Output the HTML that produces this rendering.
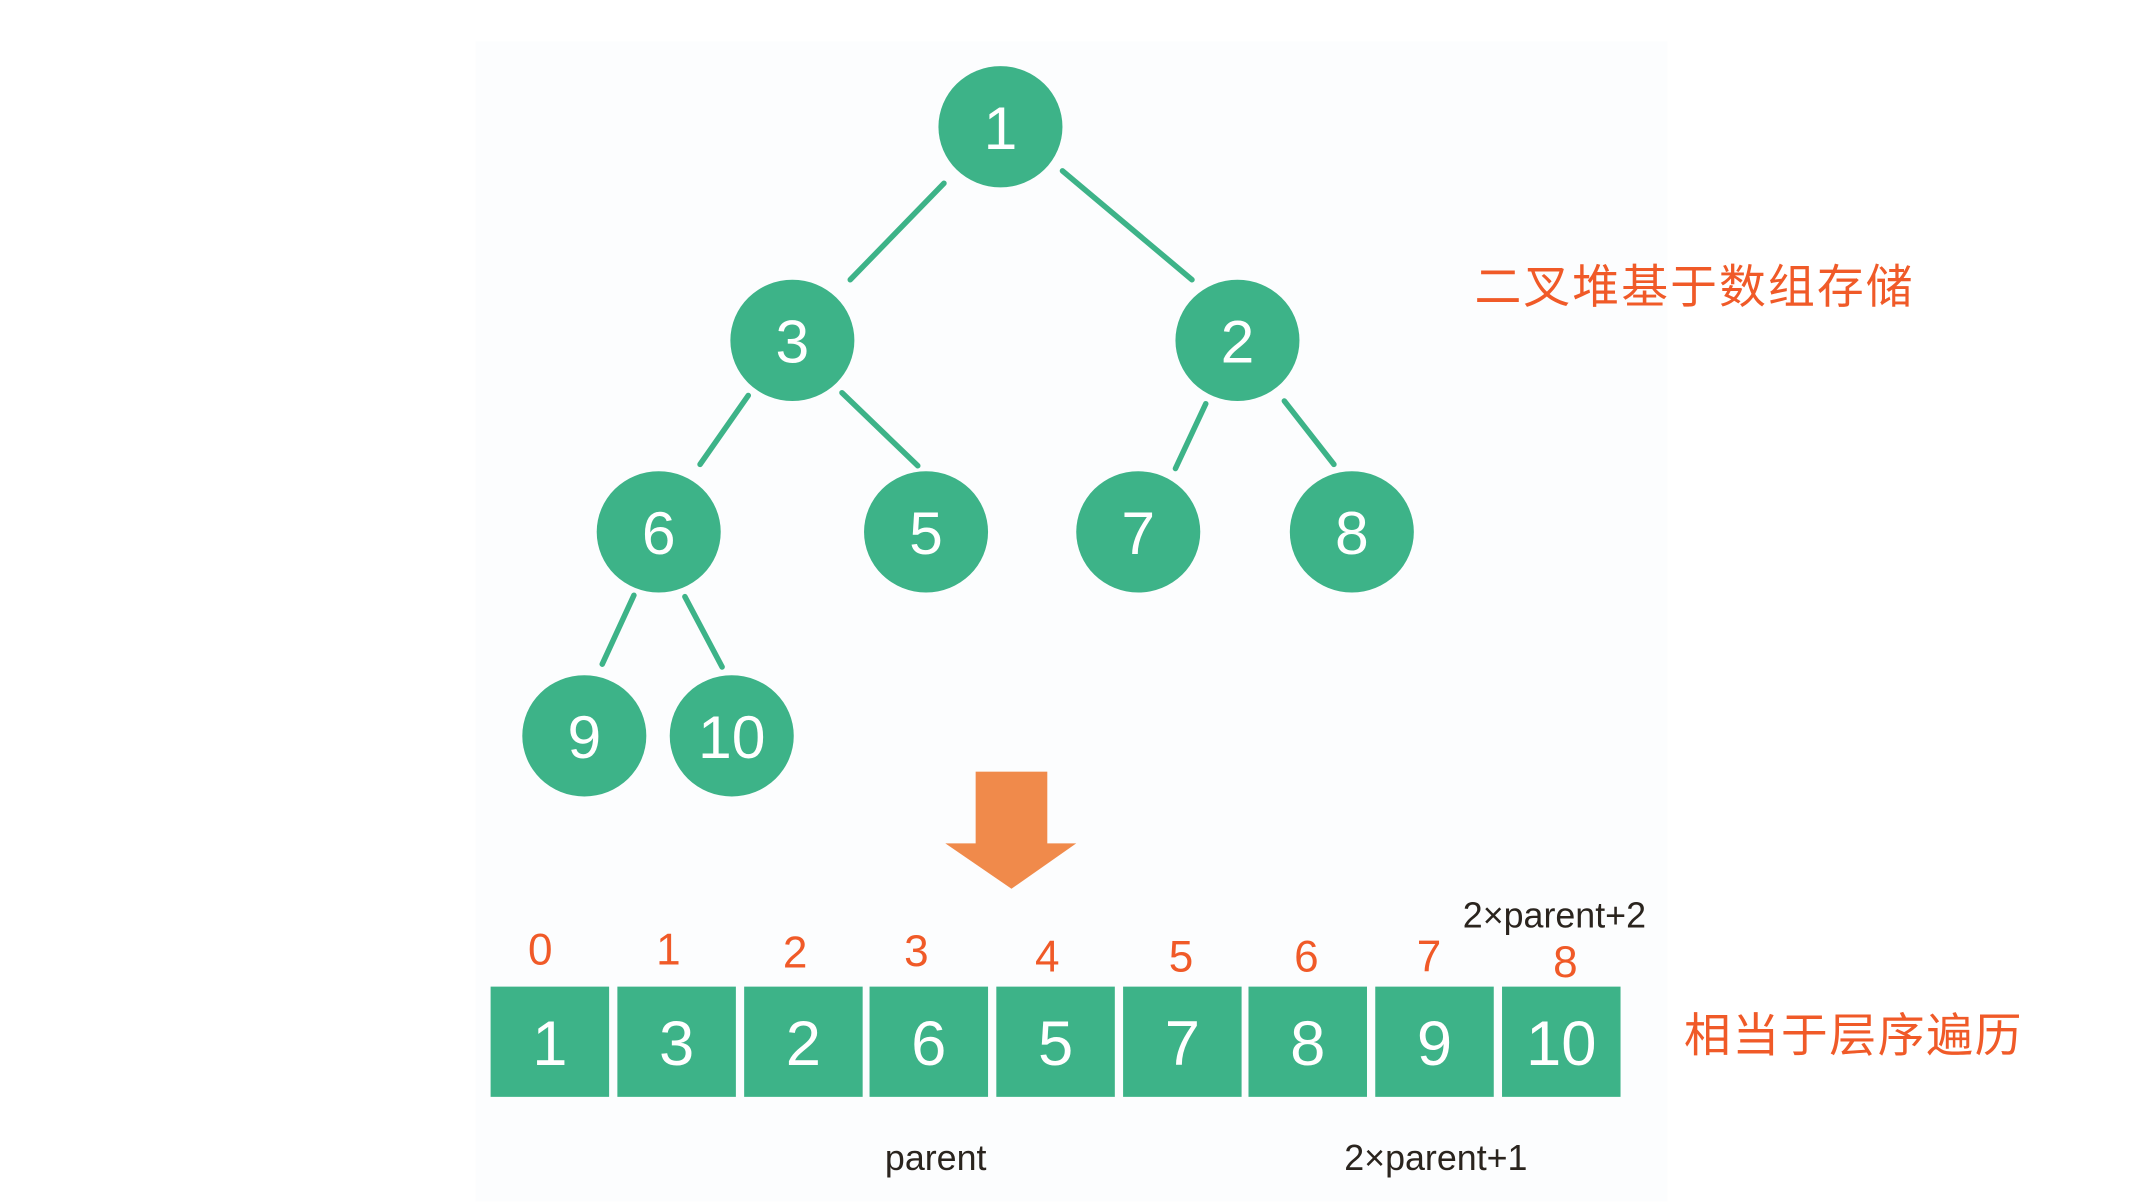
<!DOCTYPE html>
<html><head><meta charset="utf-8"><style>
html,body{margin:0;padding:0;background:#fff;}
svg{display:block}
</style></head><body>
<svg width="2150" height="1202" viewBox="0 0 1560.2 872.3" xmlns="http://www.w3.org/2000/svg">
<rect x="345" y="30" width="865" height="842" fill="#fcfdfe"/>
<g stroke="#3db388" stroke-width="4" stroke-linecap="round">
<line x1="685" y1="133" x2="617" y2="203"/>
<line x1="771" y1="124" x2="865" y2="203"/>
<line x1="543" y1="287" x2="508" y2="337"/>
<line x1="611" y1="285" x2="666" y2="338"/>
<line x1="875" y1="293" x2="853" y2="340"/>
<line x1="932" y1="291" x2="968" y2="337"/>
<line x1="460" y1="432" x2="437" y2="482"/>
<line x1="497" y1="433" x2="524" y2="484"/>
</g>
<g fill="#3db388">
<ellipse cx="726" cy="92" rx="45" ry="44"/>
<ellipse cx="575" cy="247" rx="45" ry="44"/>
<ellipse cx="898" cy="247" rx="45" ry="44"/>
<ellipse cx="478" cy="386" rx="45" ry="44"/>
<ellipse cx="672" cy="386" rx="45" ry="44"/>
<ellipse cx="826" cy="386" rx="45" ry="44"/>
<ellipse cx="981" cy="386" rx="45" ry="44"/>
<ellipse cx="424" cy="534" rx="45" ry="44"/>
<ellipse cx="531" cy="534" rx="45" ry="44"/>
</g>
<g fill="#fff" font-family="Liberation Sans, sans-serif" font-size="44" text-anchor="middle">
<text x="726" y="108">1</text>
<text x="575" y="263">3</text>
<text x="898" y="263">2</text>
<text x="478" y="402">6</text>
<text x="672" y="402">5</text>
<text x="826" y="402">7</text>
<text x="981" y="402">8</text>
<text x="424" y="550">9</text>
<text x="531" y="550">10</text>
</g>
<g fill="#f08a4b">
<rect x="708" y="560" width="52" height="54"/>
<polygon points="686,612 781,612 734,645"/>
</g>
<g fill="#3db388">
<rect x="356" y="716" width="86" height="80"/>
<rect x="448" y="716" width="86" height="80"/>
<rect x="540" y="716" width="86" height="80"/>
<rect x="631" y="716" width="86" height="80"/>
<rect x="723" y="716" width="86" height="80"/>
<rect x="815" y="716" width="86" height="80"/>
<rect x="906" y="716" width="86" height="80"/>
<rect x="998" y="716" width="86" height="80"/>
<rect x="1090" y="716" width="86" height="80"/>
</g>
<g fill="#fff" font-family="Liberation Sans, sans-serif" font-size="46" text-anchor="middle">
<text x="399" y="773">1</text>
<text x="491" y="773">3</text>
<text x="583" y="773">2</text>
<text x="674" y="773">6</text>
<text x="766" y="773">5</text>
<text x="858" y="773">7</text>
<text x="949" y="773">8</text>
<text x="1041" y="773">9</text>
<text x="1133" y="773">10</text>
</g>
<g fill="#f05a28" font-family="Liberation Sans, sans-serif" font-size="32" text-anchor="middle">
<text x="392" y="700">0</text>
<text x="485" y="700">1</text>
<text x="577" y="702">2</text>
<text x="665" y="701">3</text>
<text x="760" y="705">4</text>
<text x="857" y="705">5</text>
<text x="948" y="705">6</text>
<text x="1037" y="705">7</text>
<text x="1136" y="709">8</text>
</g>
<g fill="#2a241e" font-family="Liberation Sans, sans-serif" font-size="26" text-anchor="middle">
<text x="1128" y="673">2×parent+2</text>
<text x="679" y="849">parent</text>
<text x="1042" y="849">2×parent+1</text>
</g>
<g fill="#f05a28" font-family="Liberation Sans, 'Noto Sans CJK SC', sans-serif" font-size="34">
<text x="1070" y="220" textLength="318">二叉堆基于数组存储</text>
<text x="1222" y="763" textLength="245">相当于层序遍历</text>
</g>
</svg>
</body></html>
